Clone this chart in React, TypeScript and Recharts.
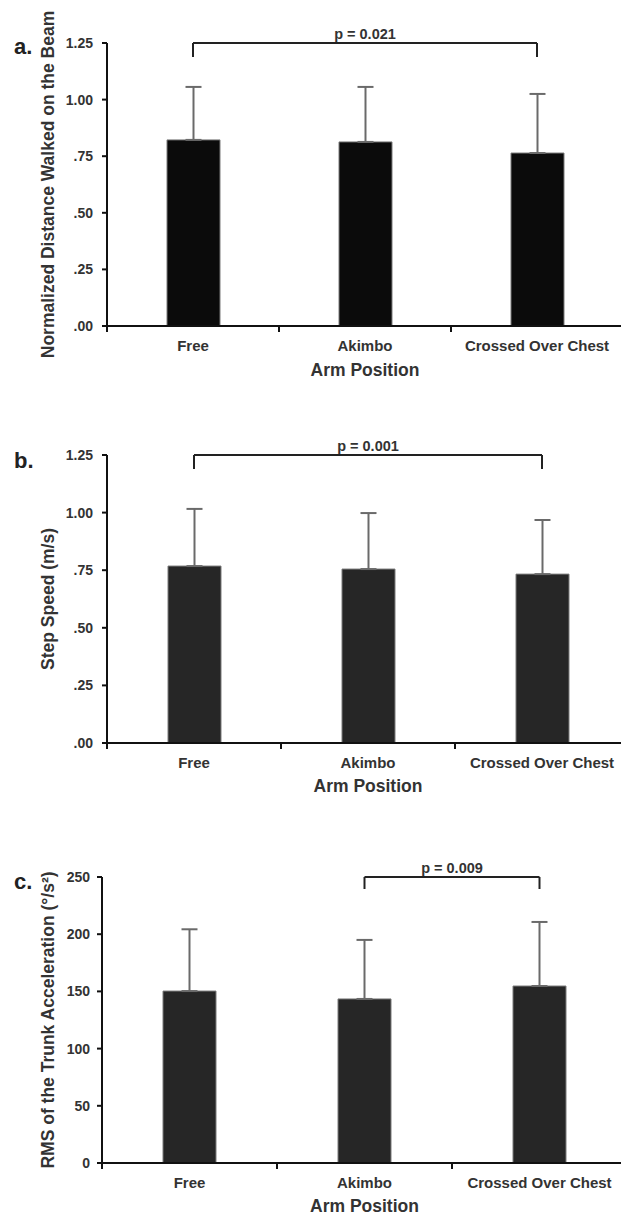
import { BarChart, Bar, XAxis, YAxis, ErrorBar, ReferenceLine } from 'recharts'

// values (bar height = mean, whisker = +1 SD)
const categories = ['Free', 'Akimbo', 'Crossed Over Chest']

const distanceMean = [0.822, 0.813, 0.764]
const distanceSd = [0.234, 0.243, 0.261]

const speedMean = [0.768, 0.755, 0.733]
const speedSd = [0.248, 0.243, 0.235]

const rmsMean = [150.3, 143.4, 154.7]
const rmsSd = [54, 51.6, 56]

const fractionTicks = [0, 0.25, 0.5, 0.75, 1, 1.25]
const fractionTickLabels = ['.00', '.25', '.50', '.75', '1.00', '1.25']
const rmsTicks = [0, 50, 100, 150, 200, 250]
const rmsTickLabels = ['0', '50', '100', '150', '200', '250']

const FONT = '"Liberation Sans", Arial, Helvetica, sans-serif'
const TEXT = '#333'
const INK = '#111'

type Bracket = { from: string; to: string; y: number; drop: number; label: string }

type PanelProps = {
  letter: string
  letterTop: number
  top: number
  width: number
  height: number
  marginTop: number
  yAxisWidth: number
  xAxisHeight: number
  xTitleOffset: number
  yTickMargin: number
  means: number[]
  sds: number[]
  ticks: number[]
  tickLabels: string[]
  yTitle: string
  barFill: string
  bracket: Bracket
}

function makeRows(means: number[], sds: number[]) {
  return categories.map((name, i) => ({ name, mean: means[i], err: [0, sds[i]] }))
}

// eslint-disable-next-line @typescript-eslint/no-explicit-any
function CategoryTick({ x, y, payload, band }: any) {
  return (
    <g>
      <line x1={x - band / 2} x2={x - band / 2} y1={y} y2={y + 6} stroke={INK} strokeWidth={2} />
      <text x={x} y={y + 25} textAnchor="middle" fontSize={15} fontWeight={700} fill={TEXT} fontFamily={FONT}>
        {payload.value}
      </text>
    </g>
  )
}

function Panel(p: PanelProps) {
  const rows = makeRows(p.means, p.sds)
  const band = (p.width - p.yAxisWidth) / categories.length
  const top = p.ticks[p.ticks.length - 1]
  const b = p.bracket

  return (
    <div style={{ position: 'absolute', left: 0, top: p.top }}>
      {/* letterTop is relative to the panel */}
      <div
        style={{
          position: 'absolute',
          left: 14,
          top: p.letterTop,
          fontFamily: FONT,
          fontWeight: 700,
          fontSize: 22,
          lineHeight: 1,
          color: '#222',
          zIndex: 2,
        }}
      >
        {p.letter}
      </div>
      <BarChart
        width={p.width}
        height={p.height}
        data={rows}
        margin={{ top: p.marginTop, right: 0, bottom: 0, left: 0 }}
        style={{ fontFamily: FONT }}
      >
        <XAxis
          dataKey="name"
          height={p.xAxisHeight}
          tickLine={false}
          tickSize={0}
          tickMargin={0}
          axisLine={{ stroke: INK, strokeWidth: 2 }}
          interval={0}
          tick={<CategoryTick band={band} />}
          label={{
            value: 'Arm Position',
            position: 'insideBottom',
            offset: p.xTitleOffset,
            fontSize: 17.5,
            fontWeight: 700,
            fill: TEXT,
          }}
        />
        <YAxis
          width={p.yAxisWidth}
          domain={[0, top]}
          ticks={p.ticks}
          interval={0}
          tickFormatter={(_v, i) => p.tickLabels[i]}
          tick={{ fontSize: 14, fontWeight: 700, fill: TEXT }}
          tickSize={5}
          tickMargin={p.yTickMargin}
          tickLine={{ stroke: INK, strokeWidth: 2 }}
          axisLine={{ stroke: INK, strokeWidth: 2 }}
          label={{
            value: p.yTitle,
            angle: -90,
            position: 'insideLeft',
            offset: 48,
            fontSize: 17.5,
            fontWeight: 700,
            fill: TEXT,
            style: { textAnchor: 'middle' },
          }}
        />
        <Bar dataKey="mean" fill={p.barFill} stroke="#7a7a7a" strokeWidth={1} barSize={53} isAnimationActive={false}>
          <ErrorBar dataKey="err" width={8} stroke="#6a6a6a" strokeWidth={2} isAnimationActive={false} />
        </Bar>
        <ReferenceLine
          segment={[
            { x: b.from, y: b.y },
            { x: b.to, y: b.y },
          ]}
          stroke="#222"
          strokeWidth={2}
          ifOverflow="visible"
          label={{ value: b.label, position: 'top', offset: 4, fontSize: 14.5, fontWeight: 700, fill: TEXT }}
        />
        <ReferenceLine
          segment={[
            { x: b.from, y: b.y },
            { x: b.from, y: b.y - b.drop },
          ]}
          stroke="#222"
          strokeWidth={2}
          ifOverflow="visible"
        />
        <ReferenceLine
          segment={[
            { x: b.to, y: b.y },
            { x: b.to, y: b.y - b.drop },
          ]}
          stroke="#222"
          strokeWidth={2}
          ifOverflow="visible"
        />
      </BarChart>
    </div>
  )
}

export default function App() {
  return (
    <div
      style={{
        position: 'absolute',
        left: 0,
        top: 0,
        width: 621,
        height: 1217,
        overflow: 'hidden',
        background: '#fff',
      }}
    >
      <Panel
        letter="a."
        letterTop={36}
        top={0}
        width={623}
        height={380}
        marginTop={43}
        yAxisWidth={107}
        xAxisHeight={54}
        xTitleOffset={4}
        yTickMargin={9}
        means={distanceMean}
        sds={distanceSd}
        ticks={fractionTicks}
        tickLabels={fractionTickLabels}
        yTitle="Normalized Distance Walked on the Beam"
        barFill="#0b0b0b"
        bracket={{ from: 'Free', to: 'Crossed Over Chest', y: 1.25, drop: 0.062, label: 'p = 0.021' }}
      />
      <Panel
        letter="b."
        letterTop={50}
        top={400}
        width={629}
        height={400}
        marginTop={55}
        yAxisWidth={107}
        xAxisHeight={57}
        xTitleOffset={8}
        yTickMargin={9}
        means={speedMean}
        sds={speedSd}
        ticks={fractionTicks}
        tickLabels={fractionTickLabels}
        yTitle="Step Speed (m/s)"
        barFill="#262626"
        bracket={{ from: 'Free', to: 'Crossed Over Chest', y: 1.25, drop: 0.061, label: 'p = 0.001' }}
      />
      <Panel
        letter="c."
        letterTop={51}
        top={820}
        width={627}
        height={397}
        marginTop={57}
        yAxisWidth={102}
        xAxisHeight={54}
        xTitleOffset={5}
        yTickMargin={7}
        means={rmsMean}
        sds={rmsSd}
        ticks={rmsTicks}
        tickLabels={rmsTickLabels}
        yTitle="RMS of the Trunk Acceleration (°/s²)"
        barFill="#262626"
        bracket={{ from: 'Akimbo', to: 'Crossed Over Chest', y: 250, drop: 10.5, label: 'p = 0.009' }}
      />
    </div>
  )
}
